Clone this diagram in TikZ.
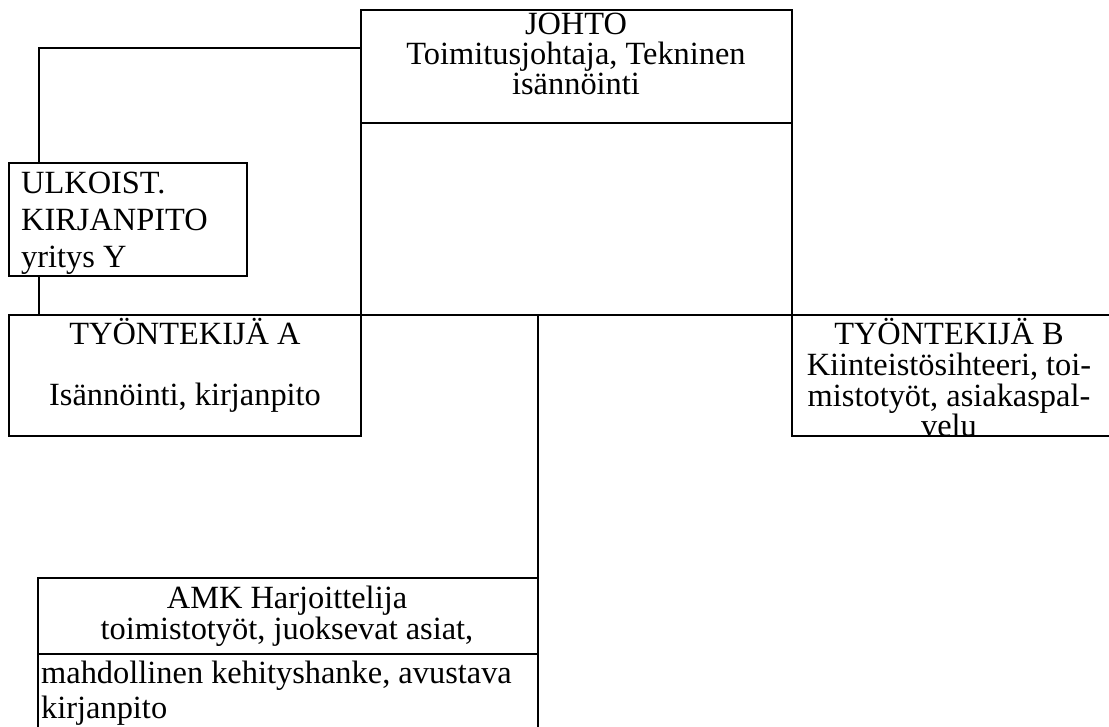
\documentclass[tikz,border=0pt]{standalone}
\usepackage{fontspec}
\setmainfont{Liberation Serif}
\begin{document}
\begin{tikzpicture}[x=1pt,y=-1pt,
  box/.style={draw, line width=2.6pt, fill=white, inner sep=0pt, outer sep=0pt, anchor=north west},
  border/.style={line width=2.6pt},
  conn/.style={line width=1.5pt},
  txt/.style={anchor=base, inner sep=0pt, font=\fontsize{32.4}{31}\selectfont},
  ltxt/.style={txt, anchor=base west}]
\useasboundingbox (0,0) rectangle (1109,726);
\clip (0,0) rectangle (1109,726);
% boxes
\path (361,10) node[box, minimum width=431pt, minimum height=113pt] (johto) {};
\path (9,315) node[box, minimum width=352pt, minimum height=121pt] (tyoa) {};
\path (792,315) node[box, minimum width=330pt, minimum height=121pt] (tyob) {};
\path (38,578) node[box, minimum width=500pt, minimum height=160pt] (amk) {};
% connectors
\draw[conn] ([yshift=-38pt]johto.north west) -| ([xshift=30pt]tyoa.north west);
\draw[conn] (johto.south west) -- (tyoa.north east);
\draw[conn] (johto.south east) -- (tyob.north west);
\draw[conn] (tyoa.north east) -- (tyob.north west);
\draw[conn] (amk.north east |- tyoa.north) -- (amk.north east);
% external accounting box over the connector
\path (9,163) node[box, minimum width=238pt, minimum height=113pt] (ulk) {};
% box borders on top of connectors
\draw[border] (johto.north west) rectangle (johto.south east);
\draw[border] (tyoa.north west) rectangle (tyoa.south east);
\draw[border] (tyob.north west) rectangle (tyob.south east);
\draw[border] (amk.north west) rectangle (amk.south east);
\draw[conn] ([yshift=-76pt]amk.north west) -- ([yshift=-76pt]amk.north east);
% texts
\node[txt] (j1) at (576,34) {JOHTO};
\node[txt] (j2) at (576,64) {Toimitusjohtaja, Tekninen};
\node[txt] (j3) at (576,94) {isännöinti};
\node[ltxt] (u1) at (21,193) {ULKOIST.};
\node[ltxt] (u2) at (21,230) {KIRJANPITO};
\node[ltxt] (u3) at (21,267) {yritys Y};
\node[txt] (a1) at (185,344) {TYÖNTEKIJÄ A};
\node[txt] (a2) at (185,405) {Isännöinti, kirjanpito};
\node[txt] (b1) at (949,344) {TYÖNTEKIJÄ B};
\node[txt] (b2) at (949,375) {Kiinteistösihteeri, toi-};
\node[txt] (b3) at (949,406) {mistotyöt, asiakaspal-};
\node[txt] (b4) at (949,436) {velu};
\node[txt] (m1) at (287,608) {AMK Harjoittelija};
\node[txt] (m2) at (287,639) {toimistotyöt, juoksevat asiat,};
\node[ltxt] (m3) at (41,683) {mahdollinen kehityshanke, avustava};
\node[ltxt] (m4) at (41,718) {kirjanpito};
\end{tikzpicture}
\end{document}
